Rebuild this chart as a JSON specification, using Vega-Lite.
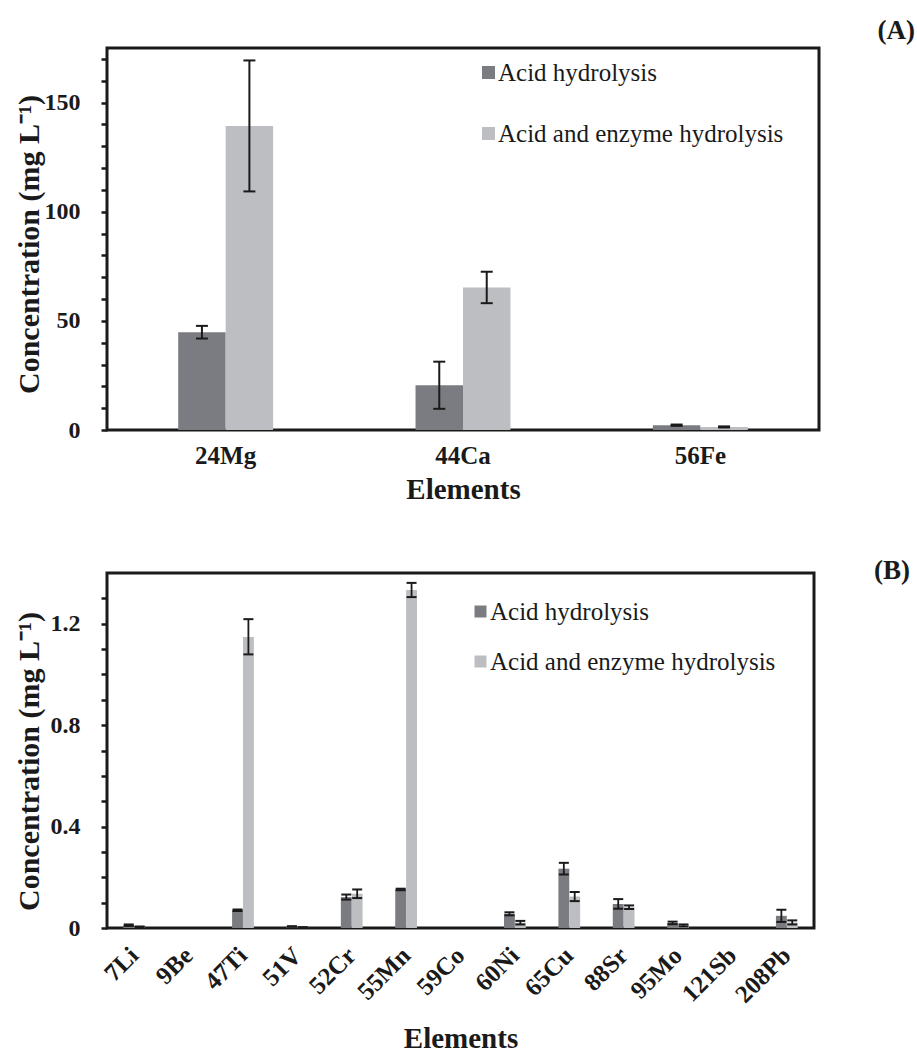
{
  "$schema": "https://vega.github.io/schema/vega-lite/v6.json",
  "background": "white",
  "padding": {"left": 12, "top": 15, "right": 5, "bottom": 5},
  "spacing": 49,
  "resolve": {"scale": {"color": "independent", "xOffset": "independent", "x": "independent", "y": "independent"}, "legend": {"color": "independent"}},
  "config": {
    "font": "Liberation Serif",
    "view": {"stroke": "#1a1a1a", "strokeWidth": 3},
    "axis": {"labelFont": "Liberation Serif", "titleFont": "Liberation Serif", "labelFontWeight": "bold", "titleFontWeight": "bold", "labelColor": "#1a1a1a", "titleColor": "#1a1a1a", "grid": false, "domain": false, "tickColor": "#1a1a1a"}
  },
  "vconcat": [
    {
      "width": 712,
      "height": 382,
      "title": {"text": "(A)", "orient": "right", "angle": 0, "anchor": "start", "align": "left", "baseline": "middle", "offset": 21, "dy": -17, "fontSize": 27, "fontWeight": "bold", "font": "Liberation Serif", "color": "#1a1a1a", "frame": "group"},
      "data": {"values": [
        {"element": "24Mg", "method": "Acid hydrolysis", "value": 44.8, "lo": 41.9, "hi": 47.7},
        {"element": "24Mg", "method": "Acid and enzyme hydrolysis", "value": 139.3, "lo": 109.3, "hi": 169.3},
        {"element": "44Ca", "method": "Acid hydrolysis", "value": 20.5, "lo": 9.7, "hi": 31.3},
        {"element": "44Ca", "method": "Acid and enzyme hydrolysis", "value": 65.3, "lo": 58.1, "hi": 72.5},
        {"element": "56Fe", "method": "Acid hydrolysis", "value": 2.2, "lo": 1.9, "hi": 2.5},
        {"element": "56Fe", "method": "Acid and enzyme hydrolysis", "value": 1.4, "lo": 1.15, "hi": 1.65}
      ]},
      "encoding": {
        "x": {"field": "element", "type": "nominal", "sort": ["24Mg", "44Ca", "56Fe"], "scale": {"paddingInner": 0.6, "paddingOuter": 0.3},
          "axis": {"labelAngle": 0, "ticks": false, "labelPadding": 13, "labelFontSize": 25, "title": "Elements", "titleFontSize": 29, "titleY": 45, "titleBaseline": "top"}},
        "xOffset": {"field": "method", "type": "nominal", "sort": ["Acid hydrolysis", "Acid and enzyme hydrolysis"]}
      },
      "layer": [
        {
          "mark": {"type": "bar"},
          "encoding": {
            "y": {"field": "value", "type": "quantitative", "title": "Concentration (mg  L⁻¹)", "scale": {"domain": [0, 175], "nice": false},
              "axis": {"values": [0, 10, 20, 30, 40, 50, 60, 70, 80, 90, 100, 110, 120, 130, 140, 150, 160, 170], "format": "d", "labelExpr": "datum.value % 50 == 0 ? datum.label : ''", "labelOverlap": false, "labelFontSize": 24, "labelPadding": 21, "tickSize": 6, "tickWidth": 2.5, "titleFontSize": 30, "titleX": -63, "titleY": 196, "titleAngle": 270, "titleBaseline": "bottom", "titleAlign": "center"}},
            "color": {"field": "method", "type": "nominal", "sort": ["Acid hydrolysis", "Acid and enzyme hydrolysis"], "scale": {"range": ["#7b7c81", "#bdbec2"]},
              "legend": {"orient": "none", "legendX": 369, "legendY": 12, "title": null, "symbolType": "square", "symbolSize": 169, "symbolStrokeWidth": 0, "symbolOpacity": 1, "labelFontSize": 25, "labelLimit": 500, "labelFont": "Liberation Serif", "labelColor": "#1a1a1a", "labelOffset": -3, "rowPadding": 35, "padding": 0}}
          }
        },
        {
          "mark": {"type": "rule", "color": "#1a1a1a", "strokeWidth": 2},
          "encoding": {"y": {"field": "lo", "type": "quantitative", "title": "Concentration (mg  L⁻¹)", "scale": {"domain": [0, 175], "nice": false},
              "axis": {"values": [0, 10, 20, 30, 40, 50, 60, 70, 80, 90, 100, 110, 120, 130, 140, 150, 160, 170], "format": "d", "labelExpr": "datum.value % 50 == 0 ? datum.label : ''", "labelOverlap": false, "labelFontSize": 24, "labelPadding": 21, "tickSize": 6, "tickWidth": 2.5, "titleFontSize": 30, "titleX": -63, "titleY": 196, "titleAngle": 270, "titleBaseline": "bottom", "titleAlign": "center"}}, "y2": {"field": "hi"}}
        },
        {
          "mark": {"type": "tick", "color": "#1a1a1a", "thickness": 2, "size": 12, "opacity": 1},
          "encoding": {"y": {"field": "hi", "type": "quantitative", "title": "Concentration (mg  L⁻¹)", "scale": {"domain": [0, 175], "nice": false},
              "axis": {"values": [0, 10, 20, 30, 40, 50, 60, 70, 80, 90, 100, 110, 120, 130, 140, 150, 160, 170], "format": "d", "labelExpr": "datum.value % 50 == 0 ? datum.label : ''", "labelOverlap": false, "labelFontSize": 24, "labelPadding": 21, "tickSize": 6, "tickWidth": 2.5, "titleFontSize": 30, "titleX": -63, "titleY": 196, "titleAngle": 270, "titleBaseline": "bottom", "titleAlign": "center"}}}
        },
        {
          "mark": {"type": "tick", "color": "#1a1a1a", "thickness": 2, "size": 12, "opacity": 1},
          "encoding": {"y": {"field": "lo", "type": "quantitative", "title": "Concentration (mg  L⁻¹)", "scale": {"domain": [0, 175], "nice": false},
              "axis": {"values": [0, 10, 20, 30, 40, 50, 60, 70, 80, 90, 100, 110, 120, 130, 140, 150, 160, 170], "format": "d", "labelExpr": "datum.value % 50 == 0 ? datum.label : ''", "labelOverlap": false, "labelFontSize": 24, "labelPadding": 21, "tickSize": 6, "tickWidth": 2.5, "titleFontSize": 30, "titleX": -63, "titleY": 196, "titleAngle": 270, "titleBaseline": "bottom", "titleAlign": "center"}}}
        }
      ]
    },
    {
      "width": 707,
      "height": 355,
      "title": {"text": "(B)", "orient": "right", "angle": 0, "anchor": "start", "align": "left", "baseline": "middle", "offset": 24, "dy": -2, "fontSize": 27, "fontWeight": "bold", "font": "Liberation Serif", "color": "#1a1a1a", "frame": "group"},
      "data": {"values": [
        {"element": "7Li", "series": "Acid hydrolysis", "value": 0.011, "lo": 0.008, "hi": 0.014},
        {"element": "7Li", "series": "Acid and enzyme hydrolysis", "value": 0.005, "lo": 0.004, "hi": 0.006},
        {"element": "9Be", "series": "Acid hydrolysis", "value": 0},
        {"element": "9Be", "series": "Acid and enzyme hydrolysis", "value": 0},
        {"element": "47Ti", "series": "Acid hydrolysis", "value": 0.070, "lo": 0.067, "hi": 0.073},
        {"element": "47Ti", "series": "Acid and enzyme hydrolysis", "value": 1.148, "lo": 1.079, "hi": 1.218},
        {"element": "51V", "series": "Acid hydrolysis", "value": 0.006, "lo": 0.005, "hi": 0.007},
        {"element": "51V", "series": "Acid and enzyme hydrolysis", "value": 0.002, "lo": 0.001, "hi": 0.003},
        {"element": "52Cr", "series": "Acid hydrolysis", "value": 0.122, "lo": 0.112, "hi": 0.132},
        {"element": "52Cr", "series": "Acid and enzyme hydrolysis", "value": 0.135, "lo": 0.118, "hi": 0.152},
        {"element": "55Mn", "series": "Acid hydrolysis", "value": 0.152, "lo": 0.149, "hi": 0.155},
        {"element": "55Mn", "series": "Acid and enzyme hydrolysis", "value": 1.333, "lo": 1.305, "hi": 1.361},
        {"element": "59Co", "series": "Acid hydrolysis", "value": 0},
        {"element": "59Co", "series": "Acid and enzyme hydrolysis", "value": 0},
        {"element": "60Ni", "series": "Acid hydrolysis", "value": 0.056, "lo": 0.050, "hi": 0.062},
        {"element": "60Ni", "series": "Acid and enzyme hydrolysis", "value": 0.021, "lo": 0.014, "hi": 0.028},
        {"element": "65Cu", "series": "Acid hydrolysis", "value": 0.234, "lo": 0.211, "hi": 0.257},
        {"element": "65Cu", "series": "Acid and enzyme hydrolysis", "value": 0.124, "lo": 0.106, "hi": 0.142},
        {"element": "88Sr", "series": "Acid hydrolysis", "value": 0.095, "lo": 0.076, "hi": 0.114},
        {"element": "88Sr", "series": "Acid and enzyme hydrolysis", "value": 0.082, "lo": 0.075, "hi": 0.089},
        {"element": "95Mo", "series": "Acid hydrolysis", "value": 0.020, "lo": 0.015, "hi": 0.025},
        {"element": "95Mo", "series": "Acid and enzyme hydrolysis", "value": 0.010, "lo": 0.006, "hi": 0.014},
        {"element": "121Sb", "series": "Acid hydrolysis", "value": 0},
        {"element": "121Sb", "series": "Acid and enzyme hydrolysis", "value": 0},
        {"element": "208Pb", "series": "Acid hydrolysis", "value": 0.048, "lo": 0.024, "hi": 0.072},
        {"element": "208Pb", "series": "Acid and enzyme hydrolysis", "value": 0.022, "lo": 0.014, "hi": 0.030}
      ]},
      "encoding": {
        "x": {"field": "element", "type": "nominal", "sort": ["7Li", "9Be", "47Ti", "51V", "52Cr", "55Mn", "59Co", "60Ni", "65Cu", "88Sr", "95Mo", "121Sb", "208Pb"], "scale": {"paddingInner": 0.6, "paddingOuter": 0.3},
          "axis": {"labelAngle": -45, "labelAlign": "right", "labelBaseline": "middle", "ticks": false, "labelPadding": 23, "labelFontSize": 25, "title": "Elements", "titleFontSize": 29, "titleY": 96, "titleBaseline": "top"}},
        "xOffset": {"field": "series", "type": "nominal", "sort": ["Acid hydrolysis", "Acid and enzyme hydrolysis"]}
      },
      "layer": [
        {
          "mark": {"type": "bar"},
          "encoding": {
            "y": {"field": "value", "type": "quantitative", "title": "Concentration (mg  L⁻¹)", "scale": {"domain": [0, 1.4], "nice": false},
              "axis": {"values": [0, 0.1, 0.2, 0.3, 0.4, 0.5, 0.6, 0.7, 0.8, 0.9, 1.0, 1.1, 1.2, 1.3], "format": "~g", "labelExpr": "(datum.value == 0 || datum.value == 0.4 || datum.value == 0.8 || datum.value == 1.2) ? datum.label : ''", "labelOverlap": false, "labelFontSize": 24, "labelPadding": 21, "tickSize": 6, "tickWidth": 2.5, "titleFontSize": 30, "titleX": -63, "titleY": 188, "titleAngle": 270, "titleBaseline": "bottom", "titleAlign": "center"}},
            "color": {"field": "series", "type": "nominal", "sort": ["Acid hydrolysis", "Acid and enzyme hydrolysis"], "scale": {"range": ["#7b7c81", "#bdbec2"]},
              "legend": {"orient": "none", "legendX": 361, "legendY": 26, "title": null, "symbolType": "square", "symbolSize": 144, "symbolStrokeWidth": 0, "symbolOpacity": 1, "labelFontSize": 25, "labelLimit": 500, "labelFont": "Liberation Serif", "labelColor": "#1a1a1a", "labelOffset": -3, "rowPadding": 24, "padding": 0}}
          }
        },
        {
          "mark": {"type": "rule", "color": "#1a1a1a", "strokeWidth": 1.8},
          "encoding": {"y": {"field": "lo", "type": "quantitative", "title": "Concentration (mg  L⁻¹)", "scale": {"domain": [0, 1.4], "nice": false},
              "axis": {"values": [0, 0.1, 0.2, 0.3, 0.4, 0.5, 0.6, 0.7, 0.8, 0.9, 1.0, 1.1, 1.2, 1.3], "format": "~g", "labelExpr": "(datum.value == 0 || datum.value == 0.4 || datum.value == 0.8 || datum.value == 1.2) ? datum.label : ''", "labelOverlap": false, "labelFontSize": 24, "labelPadding": 21, "tickSize": 6, "tickWidth": 2.5, "titleFontSize": 30, "titleX": -63, "titleY": 188, "titleAngle": 270, "titleBaseline": "bottom", "titleAlign": "center"}}, "y2": {"field": "hi"}}
        },
        {
          "mark": {"type": "tick", "color": "#1a1a1a", "thickness": 2, "size": 10, "opacity": 1},
          "encoding": {"y": {"field": "hi", "type": "quantitative", "title": "Concentration (mg  L⁻¹)", "scale": {"domain": [0, 1.4], "nice": false},
              "axis": {"values": [0, 0.1, 0.2, 0.3, 0.4, 0.5, 0.6, 0.7, 0.8, 0.9, 1.0, 1.1, 1.2, 1.3], "format": "~g", "labelExpr": "(datum.value == 0 || datum.value == 0.4 || datum.value == 0.8 || datum.value == 1.2) ? datum.label : ''", "labelOverlap": false, "labelFontSize": 24, "labelPadding": 21, "tickSize": 6, "tickWidth": 2.5, "titleFontSize": 30, "titleX": -63, "titleY": 188, "titleAngle": 270, "titleBaseline": "bottom", "titleAlign": "center"}}}
        },
        {
          "mark": {"type": "tick", "color": "#1a1a1a", "thickness": 2, "size": 10, "opacity": 1},
          "encoding": {"y": {"field": "lo", "type": "quantitative", "title": "Concentration (mg  L⁻¹)", "scale": {"domain": [0, 1.4], "nice": false},
              "axis": {"values": [0, 0.1, 0.2, 0.3, 0.4, 0.5, 0.6, 0.7, 0.8, 0.9, 1.0, 1.1, 1.2, 1.3], "format": "~g", "labelExpr": "(datum.value == 0 || datum.value == 0.4 || datum.value == 0.8 || datum.value == 1.2) ? datum.label : ''", "labelOverlap": false, "labelFontSize": 24, "labelPadding": 21, "tickSize": 6, "tickWidth": 2.5, "titleFontSize": 30, "titleX": -63, "titleY": 188, "titleAngle": 270, "titleBaseline": "bottom", "titleAlign": "center"}}}
        }
      ]
    }
  ]
}
